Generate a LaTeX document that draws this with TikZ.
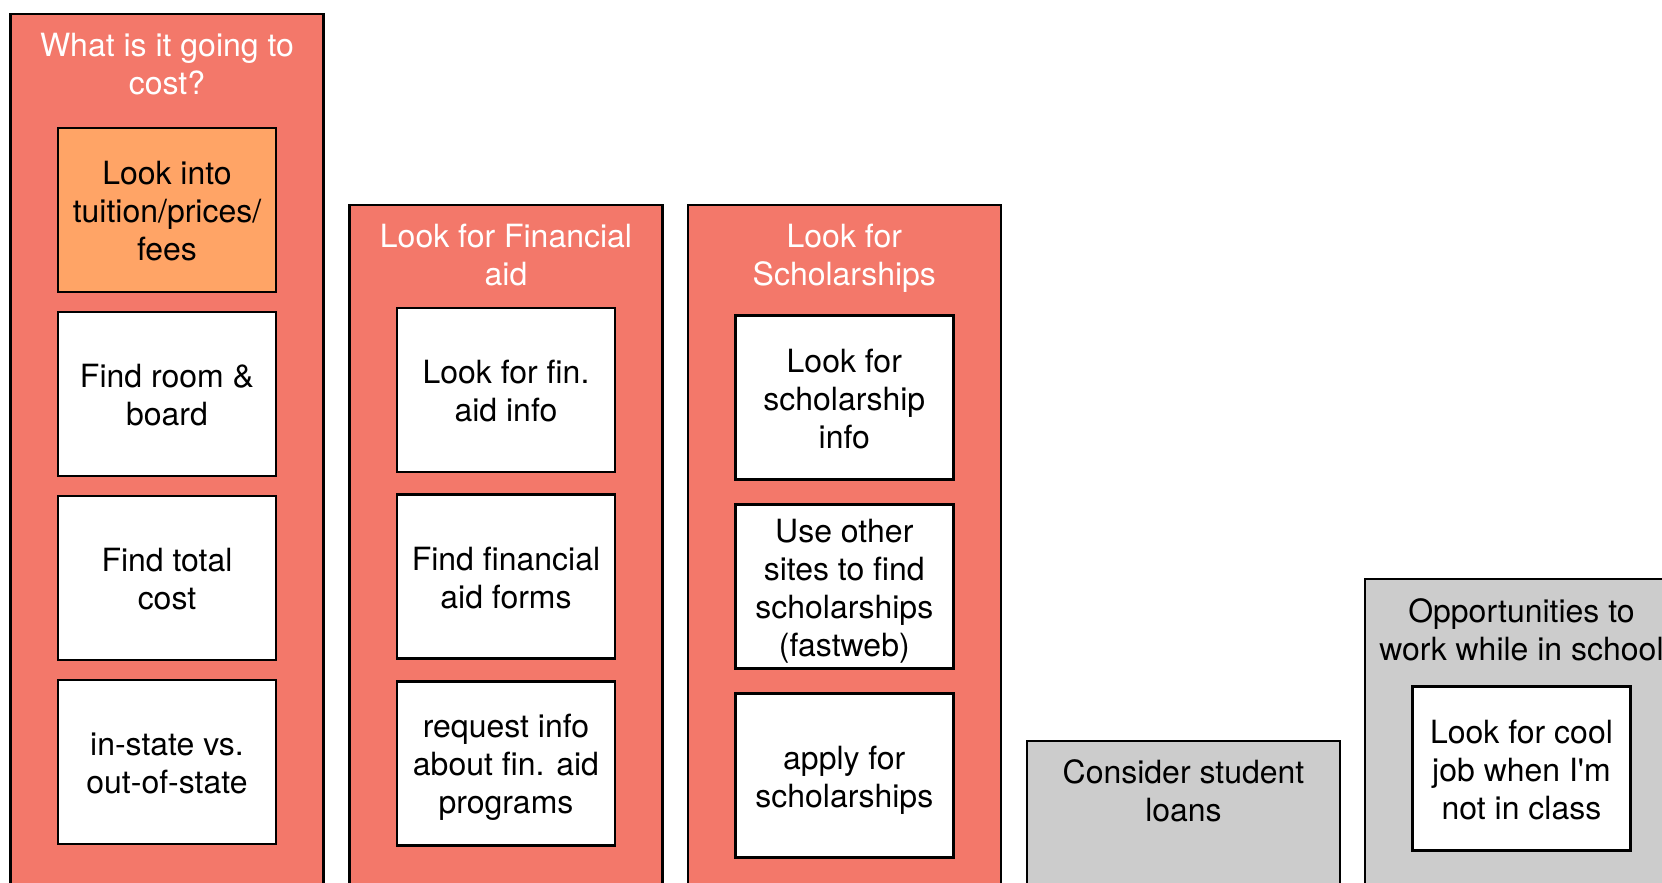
\documentclass[tikz,border=0pt]{standalone}
\usepackage{fontspec}
\setmainfont{TeX Gyre Heros}
\usetikzlibrary{positioning}
\definecolor{CSalmon}{HTML}{F3786A}
\definecolor{PApricot}{HTML}{FFA466}
\definecolor{SGrey}{HTML}{CCCCCC}
\newcommand{\tallstrut}{\rule{0pt}{9.2pt}}
\newcommand{\botstrut}{\rule[-2.05pt]{0pt}{2.05pt}}
\tikzset{
    struts/.style = {execute at end node=\botstrut},
    lane/.style = {draw, rectangle, fill=CSalmon, line width=0.7pt,
        minimum width=31.3mm, anchor=north},
    greylane/.style = {lane, fill=SGrey},
    head/.style = {struts, align=center, text=white},
    greyhead/.style = {struts, align=center, text=black},
    block/.style = {struts, draw, rectangle, fill=white, line width=0.7pt, inner sep=0pt,
        minimum height=16.4mm, minimum width=21.8mm, align=center},
    hot/.style = {block, fill=PApricot}
}
\begin{document}
\begin{tikzpicture}[x=1mm, y=1mm, node distance=18.4mm, every node/.style={font=\fontsize{9.1}{10.8}\selectfont}]
        \useasboundingbox (0,0) rectangle (166.2,-88.3);
        \node [lane, minimum height=92mm] (cost) at (16.7,-1.27) {};
        \node [head] (costhead) at (16.7,-6.27) {\tallstrut What is it going to\\cost?};
        \node [hot] (tuition) at (16.7,-20.99) {\tallstrut Look into\\tuition/prices/\\fees};
        \node [block, below of=tuition] (room) {\tallstrut Find room \&\\board};
        \node [block, below of=room] (total) {\tallstrut Find total\\cost};
        \node [block, below of=total] (instate) {\tallstrut in-state vs.\\out-of-state};

        \node [lane, minimum height=72mm] (finaid) at (50.6,-20.35) {};
        \node [head] (finaidhead) at (50.6,-25.4) {\tallstrut Look for Financial\\aid};
        \node [block] (fininfo) at (50.6,-39.01) {\tallstrut Look for fin.\\aid info};
        \node [block, below of=fininfo, node distance=18.66mm] (finforms) {\tallstrut Find financial\\aid forms};
        \node [block, below of=finforms, node distance=18.66mm] (finrequest) {\tallstrut request info\\about fin. aid\\programs};

        \node [lane, minimum height=72mm] (scholar) at (84.43,-20.35) {};
        \node [head] (scholarhead) at (84.43,-25.4) {\tallstrut Look for\\Scholarships};
        \node [block] (scholinfo) at (84.43,-39.75) {\tallstrut Look for\\scholarship\\info};
        \node [block, below of=scholinfo, node distance=18.9mm] (scholsites) {\tallstrut Use other\\sites to find\\scholarships\\(fastweb)};
        \node [block, below of=scholsites, node distance=18.9mm] (scholapply) {\tallstrut apply for\\scholarships};

        \node [greylane, minimum height=16mm] (loans) at (118.35,-74.0) {};
        \node [greyhead] (loanshead) at (118.35,-79.0) {\tallstrut Consider student\\loans};

        \node [greylane, minimum height=34mm] (work) at (152.15,-57.77) {};
        \node [greyhead] (workhead) at (152.15,-62.9) {\tallstrut Opportunities to\\work while in school};
        \node [block] (job) at (152.15,-76.85) {\tallstrut Look for cool\\job when I\textquotesingle m\\not in class};
\end{tikzpicture}
\end{document}
